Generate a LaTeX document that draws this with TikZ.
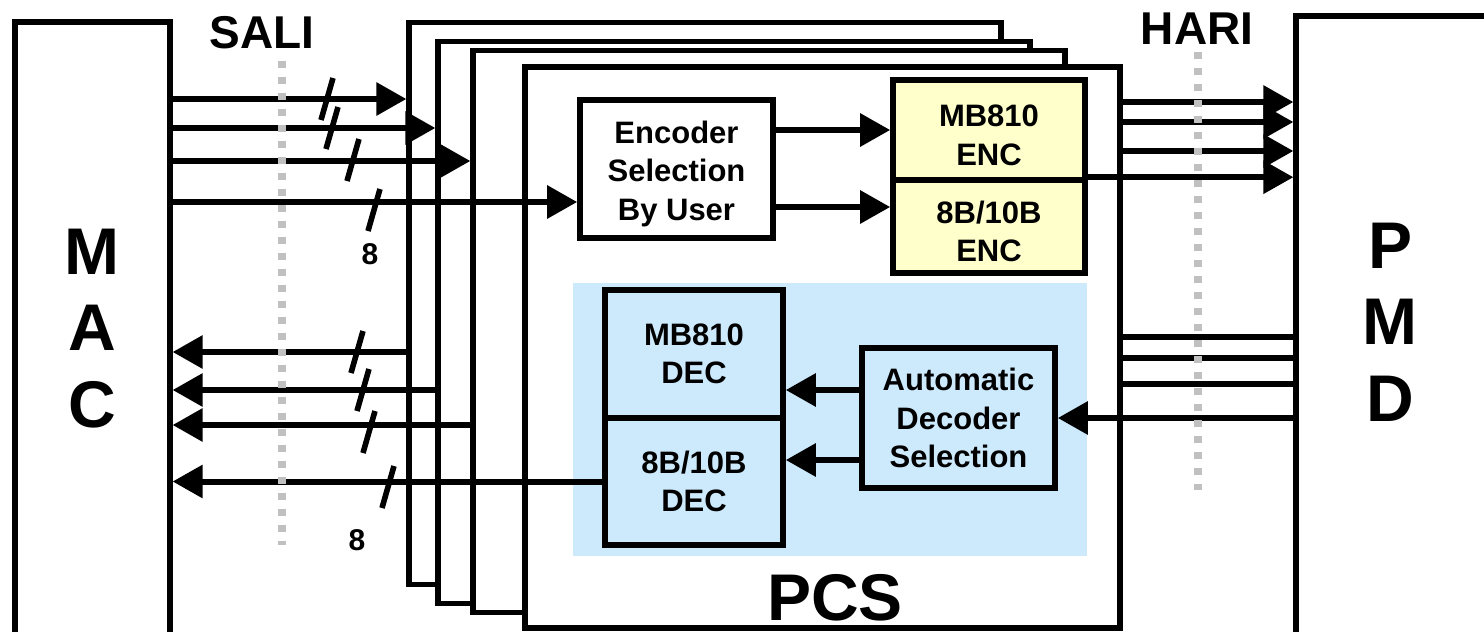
\documentclass[tikz,border=0pt]{standalone}
\usepackage{fontspec}
\setmainfont{Liberation Sans}
\usetikzlibrary{shapes,arrows.meta}
\definecolor{encfill}{HTML}{FFFFCC}
\definecolor{decfill}{HTML}{CCEAFC}
\definecolor{refgray}{HTML}{C0C0C0}
\newcommand{\toppad}{\rule{0pt}{16pt}}
\tikzstyle{block} =
        [
                rectangle,
                draw,
                line width = 2.8pt,
                fill = white,
                align = center,
                inner sep = 0pt,
                font = \fontsize{15.5}{19.3}\selectfont\bfseries
        ]
\tikzstyle{frame} =
        [
                rectangle,
                draw,
                line width = 2.6pt,
                fill = white,
                inner sep = 0pt,
                minimum width = 296pt,
                minimum height = 281pt
        ]
\tikzstyle{side} =
        [
                rectangle,
                draw,
                line width = 2.6pt,
                % fill = white,
                minimum width = 77.5pt
        ]
\tikzstyle{big} =
        [
                align = center,
                font = \fontsize{33}{38.25}\selectfont\bfseries
        ]
\tikzstyle{iface} =
        [
                font = \fontsize{23}{26}\selectfont\bfseries
        ]
\tikzstyle{line} =
        [
                line width = 3pt,
                draw = black,
                -{Triangle[length=15pt,width=16pt]}
        ]
\tikzstyle{wire} =
        [
                line width = 3pt,
                draw = black
        ]
\tikzstyle{bus} =
        [
                line width = 2.8pt
        ]
\tikzstyle{divider} =
        [
                line width = 4pt,
                draw = refgray,
                dash pattern = on 3.5pt off 4.5pt
        ]

\begin{document}
\begin{tikzpicture}[x=0.5pt,y=-0.5pt]
    \useasboundingbox (0,0) rectangle (1484,632);

    % MAC and PMD
    \node [side, minimum height = 339pt] (mac) at (92.5,361) {};
    \node [big] (mac-text) at (92,328.5) {M\\A\\C};
    \node [side, minimum width = 112pt, minimum height = 342pt] (pmd) at (1408,358) {};
    \node [big] (pmd-text) at (1390,322) {P\\M\\D};

    \node [iface] (sali) at (262,33) {SALI};
    \node [iface] (hari) at (1197,29) {HARI};

    % stacked PCS frames
    \node [frame] (f1) at (705,303.5) {};
    \node [frame] (f2) at (734,322.5) {};
    \node [frame] (f3) at (769,331.5) {};
    \node [frame, minimum width = 297.5pt, minimum height = 280.5pt] (f4) at (822.5,347.5) {};
    \node [big] (pcs) at (835,598) {PCS};

    % encoder side
    \node [block, minimum width = 96.5pt, minimum height = 69pt] (encsel) at (676.5,169)
        {\toppad Encoder\\Selection\\By User};
    \node [block, fill = encfill, minimum width = 96pt, minimum height = 50pt] (encmb) at (989,130)
        {\toppad MB810\\ENC};
    \node [block, fill = encfill, minimum width = 96pt, minimum height = 46.5pt] (enc8b) at (989,226.5)
        {\toppad 8B/10B\\ENC};

    % decoder side
    \node [rectangle, fill = decfill, minimum width = 257pt, minimum height = 136.5pt] (decarea) at (830,419.5) {};
    \node [block, fill = decfill, minimum width = 89pt, minimum height = 64pt] (decmb) at (694,354)
        {MB810\\DEC};
    \node [block, fill = decfill, minimum width = 89pt, minimum height = 63.5pt] (dec8b) at (694,481.5)
        {8B/10B\\DEC};
    \node [block, fill = decfill, minimum width = 96.5pt, minimum height = 70pt] (autosel) at (958.5,418)
        {Automatic\\Decoder\\Selection};

    % MAC -> PCS
    \foreach \f/\y in {f1/99, f2/128, f3/161}
    {
        \coordinate (row) at (0,\y);
        \path [line] (mac.east |- row) -- (\f.west |- row);
    }
    \coordinate (row) at (0,202);
    \path [line] (mac.east |- row) -- (encsel.west |- row);

    % PCS -> MAC
    \foreach \f/\y in {f1/352, f2/390, f3/425}
    {
        \coordinate (row) at (0,\y);
        \path [line] (\f.west |- row) -- (mac.east |- row);
    }
    \path [line] (dec8b.west) -- (mac.east |- dec8b.west);

    % bus width marks
    \foreach \x/\y in {327/99, 332/128, 353/160, 374/210, 357/352, 363/390, 369/432, 388/487}
        \draw [bus] (\x+6,\y-21) -- (\x-6,\y+21);
    \node [font = \fontsize{15}{18}\selectfont\bfseries] (w-tx) at (370,254) {8};
    \node [font = \fontsize{15}{18}\selectfont\bfseries] (w-rx) at (357,540) {8};

    % inside PCS
    \coordinate (row) at (0,130);
    \path [line] (encsel.east |- row) -- (encmb.west |- row);
    \coordinate (row) at (0,207);
    \path [line] (encsel.east |- row) -- (enc8b.west |- row);
    \coordinate (row) at (0,390);
    \path [line] (autosel.west |- row) -- (decmb.east |- row);
    \coordinate (row) at (0,460);
    \path [line] (autosel.west |- row) -- (dec8b.east |- row);

    % PCS -> PMD
    \foreach \y in {102, 122, 151}
    {
        \coordinate (row) at (0,\y);
        \path [line] (f4.east |- row) -- (pmd.west |- row);
    }
    \path [line] (enc8b.north east) -- (pmd.west |- enc8b.north east);

    % PMD -> PCS
    \foreach \y in {337, 358, 384}
    {
        \coordinate (row) at (0,\y);
        \path [wire] (f4.east |- row) -- (pmd.west |- row);
    }
    \path [line] (pmd.west |- autosel.east) -- (autosel.east);

    % interface lines
    \draw [divider] (282,61) -- (282,545);
    \draw [divider] (1198,52) -- (1198,490);
\end{tikzpicture}
\end{document}
